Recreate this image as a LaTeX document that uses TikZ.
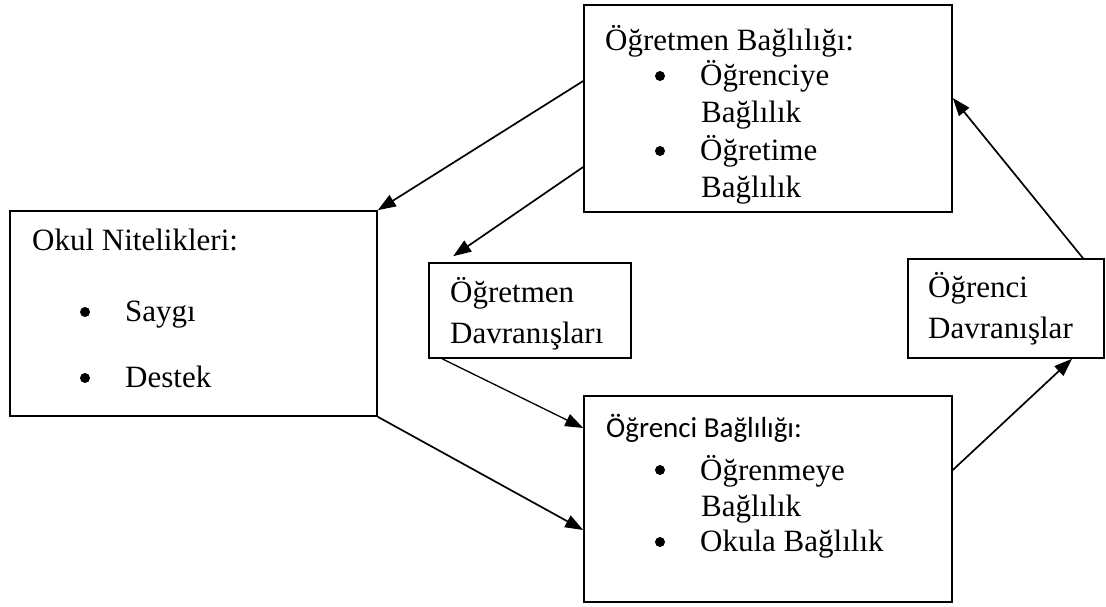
\documentclass[tikz,border=0pt]{standalone}
\usepackage{fontspec}
\setmainfont{Liberation Serif}
\newfontfamily\calibrifont{Carlito}
\usetikzlibrary{arrows.meta,calc}
\begin{document}
\begin{tikzpicture}[x=1pt,y=-1pt,
  box/.style={draw, line width=1.6pt, rectangle, inner sep=0pt},
  txt/.style={anchor=base west, inner sep=0pt, font=\fontsize{31}{37}\selectfont},
  ctxt/.style={anchor=base west, inner sep=0pt, font=\calibrifont\fontsize{29}{35}\selectfont},
  bul/.style={circle, fill=black, inner sep=0pt, minimum size=10pt},
  arr/.style={line width=1.7pt, -{Triangle[length=18pt,width=13pt]}},
  thinarr/.style={line width=1.3pt, -{Triangle[length=18pt,width=13pt]}}
]
\useasboundingbox (0,0) rectangle (1106,606);
\fill[white] (0,0) rectangle (1106,606);

% boxes
\node[box, minimum width=368pt, minimum height=207pt] (tb) at (768,108.5) {};
\node[box, minimum width=367pt, minimum height=205pt] (lb) at (193.5,313.5) {};
\node[box, minimum width=202pt, minimum height=95pt] (mb) at (530,310.5) {};
\node[box, minimum width=196pt, minimum height=99pt] (rb) at (1006,308.5) {};
\node[box, minimum width=368pt, minimum height=206pt] (bb) at (768,499) {};

% top box text
\node[txt] (tbt) at (605,50) {Öğretmen Bağlılığı:};
\node[bul] (tbb1) at (660,76) {};
\node[txt] (tbi1) at (700,85) {Öğrenciye};
\node[txt] (tbi1b) at (701,122) {Bağlılık};
\node[bul] (tbb2) at (660,151) {};
\node[txt] (tbi2) at (700,160) {Öğretime};
\node[txt] (tbi2b) at (701,197) {Bağlılık};

% left box text
\node[txt] (lbt) at (32,250) {Okul Nitelikleri:};
\node[bul] (lbb1) at (85,312) {};
\node[txt] (lbi1) at (125,321) {Saygı};
\node[bul] (lbb2) at (85,378) {};
\node[txt] (lbi2) at (125,387) {Destek};

% middle box text
\node[txt] (mbt1) at (450,302) {Öğretmen};
\node[txt] (mbt2) at (450,343) {Davranışları};

% right box text
\node[txt] (rbt1) at (928,297) {Öğrenci};
\node[txt] (rbt2) at (928,338) {Davranışlar};

% bottom box text
\node[ctxt] (bbt) at (606,437) {Öğrenci Bağlılığı:};
\node[bul] (bbb1) at (660,470) {};
\node[txt] (bbi1) at (700,480) {Öğrenmeye};
\node[txt] (bbi1b) at (701,516) {Bağlılık};
\node[bul] (bbb2) at (660,542) {};
\node[txt] (bbi2) at (700,551) {Okula Bağlılık};

% connectors
\draw[arr] (tb.west |- 0,81) -- (lb.north east);
\draw[arr] (tb.west |- 0,167) -- ($(mb.north west)+(25,-6)$);
\draw[thinarr] ($(mb.south west)+(14,0)$) -- (bb.west |- 0,428);
\draw[arr] (lb.south east) -- (bb.west |- 0,530);
\draw[arr] (bb.east |- 0,470) -- (rb.south -| 1072,0);
\draw[arr] (rb.north -| 1083,0) -- (tb.east |- 0,98);
\end{tikzpicture}
\end{document}
